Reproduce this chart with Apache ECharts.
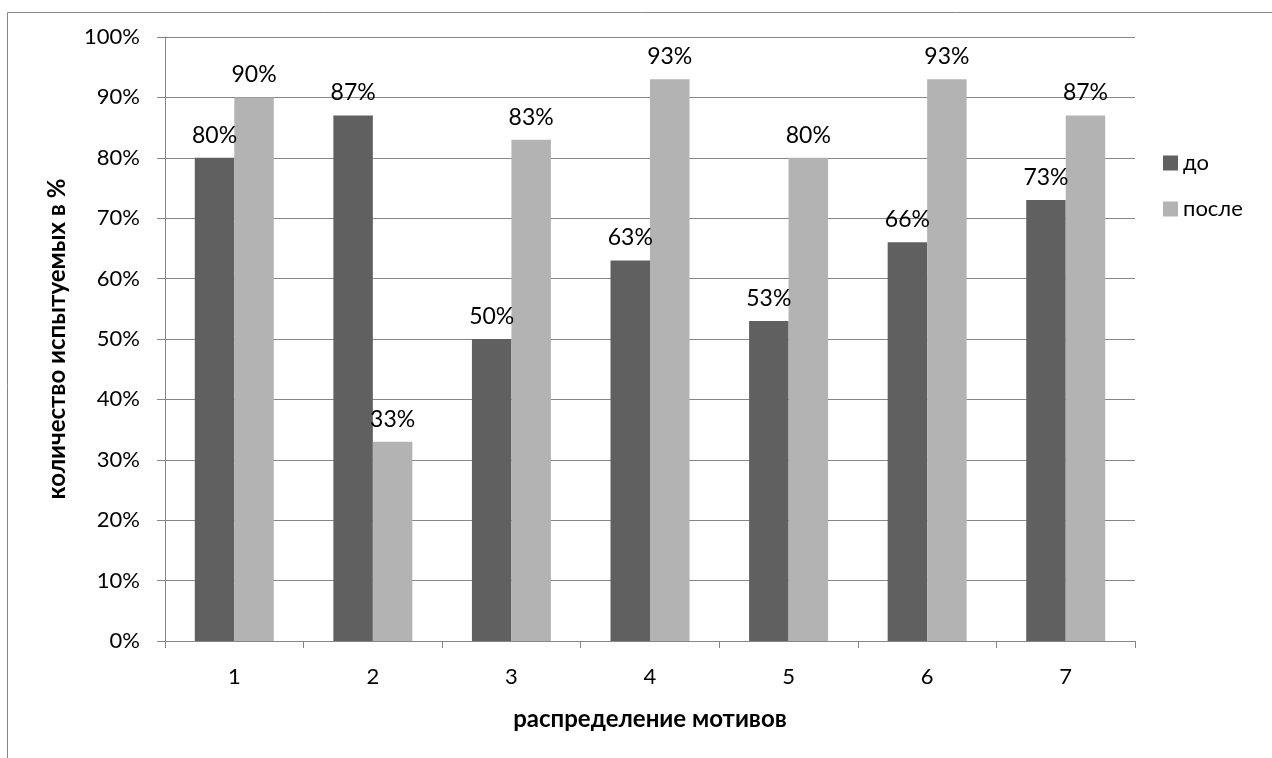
<!DOCTYPE html>
<html>
<head>
<meta charset="utf-8">
<script src="https://cdn.jsdelivr.net/npm/echarts@6/dist/echarts.min.js"></script>
<style>
html,body{margin:0;padding:0;background:#fff;}
#chart{width:1272px;height:758px;}
</style>
</head>
<body>
<div id="chart"></div>
<script>
const categories = ['1','2','3','4','5','6','7'];
const seriesNames = ['до','после'];
const before = [80, 87, 50, 63, 53, 66, 73];
const after = [90, 33, 83, 93, 80, 93, 87];
const yTicks = {min: 0, max: 100, interval: 10};
const xTitle = 'распределение мотивов';
const yTitle = 'количество испытуемых в %';

const FONT = 'Lato';
const chart = echarts.init(document.getElementById('chart'), null, {renderer: 'canvas'});
const labelStyle = {
  show: true, position: 'top', distance: 11,
  formatter: p => p.value + '%',
  color: '#000', fontFamily: FONT, fontSize: 23
};
chart.setOption({
  animation: false,
  backgroundColor: '#fff',
  textStyle: {fontFamily: FONT},
  graphic: [{
    type: 'rect', silent: true, z: -10,
    shape: {x: 7.5, y: 12.5, width: 1300, height: 800},
    style: {fill: 'none', stroke: '#868686', lineWidth: 1}
  }],
  legend: {
    orient: 'vertical', left: 1158, top: 147,
    itemWidth: 15, itemHeight: 15, itemGap: 24,
    icon: 'rect',
    textStyle: {fontFamily: FONT, fontSize: 22, color: '#000'},
    data: seriesNames
  },
  grid: {left: 165, right: 137, top: 37, bottom: 117, containLabel: false},
  xAxis: {
    type: 'category', data: categories,
    name: xTitle, nameLocation: 'middle', nameGap: 66,
    nameTextStyle: {fontFamily: FONT, fontSize: 24, fontWeight: 'bold', color: '#000'},
    axisLine: {lineStyle: {color: '#868686', width: 1}},
    axisTick: {show: true, length: 7, inside: false, lineStyle: {color: '#868686'}},
    axisLabel: {fontFamily: FONT, fontSize: 22, color: '#000', margin: 25},
    splitLine: {show: false}
  },
  yAxis: {
    type: 'value', min: yTicks.min, max: yTicks.max, interval: yTicks.interval,
    name: yTitle, nameLocation: 'middle', nameGap: 96, nameRotate: 90,
    nameTextStyle: {fontFamily: FONT, fontSize: 24, fontWeight: 'bold', color: '#000'},
    axisLine: {show: true, lineStyle: {color: '#868686', width: 1}},
    axisTick: {show: true, length: 8, lineStyle: {color: '#868686'}},
    axisLabel: {fontFamily: FONT, fontSize: 22, color: '#000', margin: 25, formatter: '{value}%'},
    splitLine: {show: true, lineStyle: {color: '#868686', width: 1}}
  },
  series: [
    {name: seriesNames[0], type: 'bar', data: before, barGap: '0%', barCategoryGap: '43%',
     itemStyle: {color: '#606060'}, label: labelStyle},
    {name: seriesNames[1], type: 'bar', data: after, barGap: '0%', barCategoryGap: '43%',
     itemStyle: {color: '#b3b3b3'}, label: labelStyle}
  ]
});
</script>
</body>
</html>
